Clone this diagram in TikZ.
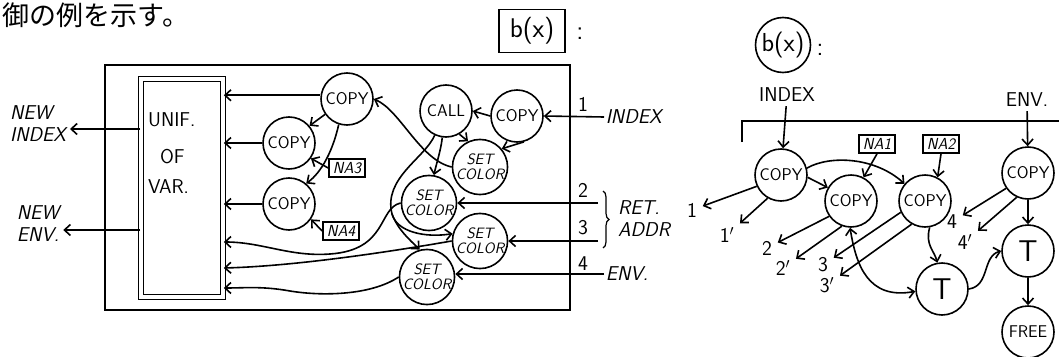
\documentclass[tikz,border=0pt]{standalone}
\usepackage{fontspec}
\newfontfamily\jpfont{Noto Sans CJK JP}
\usetikzlibrary{arrows.meta,shapes,decorations.pathreplacing}
\tikzset{
  every picture/.style={line width=1.6pt,>={Straight Barb[length=6pt,width=11pt]}},
  ops/.style={circle,draw,minimum size=52pt,inner sep=0pt,font=\sffamily\fontsize{17}{17}\selectfont},
  setc/.style={ops,align=center,font=\sffamily\itshape\fontsize{15}{15.5}\selectfont},
  big/.style={ops,font=\sffamily\fontsize{30}{30}\selectfont},
  tag/.style={draw,minimum width=36pt,minimum height=18pt,inner sep=1pt,font=\sffamily\itshape\fontsize{16}{16}\selectfont},
  lbl/.style={inner sep=5pt,font=\sffamily\fontsize{21}{21}\selectfont},
  txt/.style={font=\sffamily\fontsize{20}{22}\selectfont,align=left},
  itxt/.style={txt,font=\sffamily\itshape\fontsize{20}{22}\selectfont}
}
\begin{document}
\begin{tikzpicture}[x=1pt,y=-1pt]
\useasboundingbox (0,0) rectangle (1059,356);
\node[anchor=west,inner sep=0pt,font=\jpfont\fontsize{27}{27}\selectfont] (head) at (2,15) {御の例を示す。};

% left: boxed b(x)
\node[draw,minimum width=66pt,minimum height=43pt,font=\sffamily\fontsize{27}{27}\selectfont] (bx) at (532,31) {b(x)};
\node[font=\sffamily\fontsize{27}{27}\selectfont] (bxc) at (580,34) {:};
\draw (105,65) rectangle (570,310);

\node[draw,double,double distance=3.5pt,minimum width=82pt,minimum height=218pt,inner sep=0pt] (unif) at (182,188) {};
\node[txt,anchor=west] (un1) at (144,120) {UNIF.};
\node[txt,anchor=west] (un2) at (156,157) {OF};
\node[txt,anchor=west] (un3) at (144,187) {VAR.};
\node[itxt] (nidx) at (38,124) {NEW\\INDEX};
\node[itxt] (nenv) at (38,224) {NEW\\ENV.};
\draw[->] (unif.west |- 0,129) -- (nidx.east |- 0,129);
\draw[->] (unif.west |- 0,230) -- (nenv.east |- 0,230);

\node[ops] (cpA) at (347,99) {COPY};
\node[ops] (cpB) at (289,143) {COPY};
\node[ops] (cpC) at (289,204) {COPY};
\node[tag] (na3) at (347,168) {NA3};
\node[tag] (na4) at (341,231) {NA4};
\node[ops] (call) at (446,111) {CALL};
\node[ops] (cpD) at (517,116) {COPY};
\node[setc] (scA) at (480,167) {SET\\COLOR};
\node[setc] (scB) at (429,203) {SET\\COLOR};
\node[setc] (scC) at (480,241) {SET\\COLOR};
\node[setc] (scD) at (427,277) {SET\\COLOR};

\draw[->] (cpA.172) -- (cpA.172 -| unif.east);
\draw[->] (cpB.west) -- (cpB.west -| unif.east);
\draw[->] (cpC.west) -- (cpC.west -| unif.east);
\draw[->] (scB.west) .. controls (378,208) and (388,250) .. (330,254)
  .. controls (290,257) and (262,242) .. (unif.east |- 0,242);
\draw[->] (scC.west) .. controls (400,250) and (300,266) .. (unif.east |- 0,268);
\draw[->] (scD.west) .. controls (370,296) and (320,296) .. (290,291)
  .. controls (262,286) and (245,288) .. (unif.east |- 0,288);

\draw[->] (cpD.west) -- (call.east);
\draw[->] (cpD.285) -- (scA.40);
\draw[->] (call.300) -- (scA.115);
\draw[->] (call.262) .. controls (441,150) and (436,165) .. (scB.80);
\draw[->] (scA.west) .. controls (420,160) and (400,110) .. (cpA.east);
\draw[->] (cpA.215) -- (cpB.40);
\draw[->] (cpA.252) .. controls (333,150) and (322,172) .. (cpC.50);
\draw[->] (na3.west) -- (cpB.-35);
\draw[->] (na4.west) -- (cpC.-35);
\coordinate (lp) at (392,214);
\draw (call.245) .. controls (425,158) and (383,178) .. (lp);
\draw[->] (lp) .. controls (397,232) and (425,238) .. (scC.165);
\draw[->] (lp) .. controls (398,230) and (410,240) .. (scD.105);

% inputs
\node[lbl] (n1) at (583,104) {1};
\node[lbl] (n2) at (583,190) {2};
\node[lbl] (n3) at (583,228) {3};
\node[lbl] (n4) at (583,264) {4};
\node[itxt,anchor=west,inner sep=1pt] (inidx) at (604,117) {INDEX};
\node[itxt,anchor=west,inner sep=1pt] (inenv) at (604,274) {ENV.};
\coordinate (in2) at (598,203);
\coordinate (in3) at (598,241);
\draw[->] (inidx.west) -- (cpD.east);
\draw[->] (in2) -- (scB.east);
\draw[->] (in3) -- (scC.east);
\draw[->] (inenv.west) -- (inenv.west -| scD.east);
\draw[line width=1.2pt,decorate,decoration={brace,amplitude=6pt}] (603,191) -- (603,248);
\node[itxt] (ret) at (644,219) {RET.\\ADDR};

% right: circled b(x)
\node[circle,draw,minimum size=55pt,inner sep=0pt,font=\sffamily\fontsize{26}{26}\selectfont] (bxr) at (783,45) {b(x)};
\node[font=\sffamily\fontsize{26}{26}\selectfont] (bxrc) at (820,50) {:};
\node[txt] (ridx) at (787,95) {INDEX};
\node[txt] (renv) at (1027,100) {ENV.};
\draw (742,142) -- (742,121) -- (1059,121);

\node[ops] (R1) at (781,175) {COPY};
\node[ops] (R2) at (851,201) {COPY};
\node[ops] (R3) at (925,201) {COPY};
\node[ops] (R4) at (1028,173) {COPY};
\node[big] (T1) at (942,289) {T};
\node[big] (T2) at (1028,251) {T};
\node[ops] (FR) at (1028,332) {FREE};
\node[tag] (NA1) at (877,144) {NA1};
\node[tag] (NA2) at (941,144) {NA2};

\node[lbl] (l1) at (692,210) {1};
\node[lbl] (l1p) at (727,235) {1$'$};
\node[lbl] (l2) at (767,248) {2};
\node[lbl] (l2p) at (783,268) {2$'$};
\node[lbl] (l3) at (823,265) {3};
\node[lbl] (l3p) at (827,285) {3$'$};
\node[lbl] (l4) at (952,222) {4};
\node[lbl] (l4p) at (965,242) {4$'$};

\draw[->] (ridx) -- (R1);
\draw[->] (renv) -- (R4);
\draw[->] (R1.-5) -- (R2.150);
\draw[->] (R1.15) .. controls (830,155) and (875,157) .. (R3.140);
\draw[->] (NA1.south) -- (R2.62);
\draw[->] (NA2.south) -- (R3.62);
\draw[->] (R1.205) -- (l1);
\draw[->] (R1.240) -- (l1p);
\draw[->] (R2.215) -- (l2);
\draw[->] (R2.250) -- (l2p);
\draw[->] (R3.205) -- (l3);
\draw[->] (R3.240) -- (l3p);
\draw[->] (R4.215) -- (l4);
\draw[->] (R4.245) -- (l4p);
\draw[->] (R3.280) .. controls (925,245) and (934,250) .. (T1.100);
\draw[<->] (R2.268) .. controls (856,265) and (868,300) .. (T1.185);
\draw[->] (T1.east) .. controls (990,286) and (982,256) .. (T2.west);
\draw[->] (R4) -- (T2);
\draw[->] (T2) -- (FR);
\end{tikzpicture}
\end{document}
